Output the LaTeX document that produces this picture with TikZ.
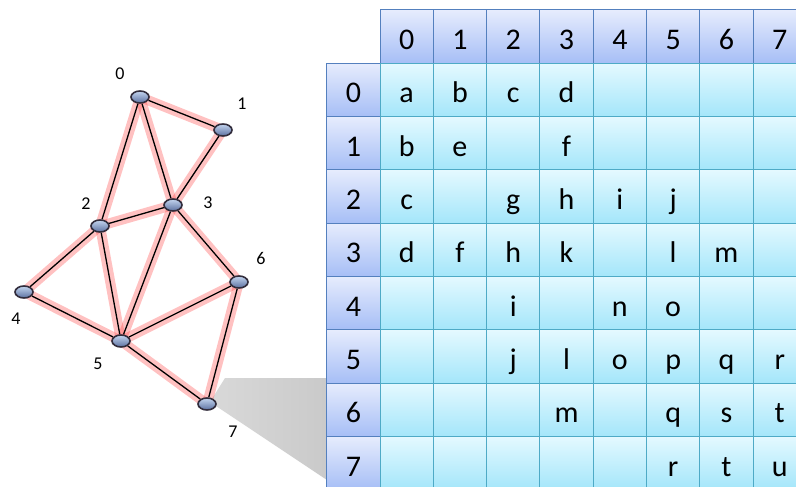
\documentclass[tikz,border=0pt]{standalone}
\usepackage{fontspec}
\setmainfont{Carlito}
\usetikzlibrary{shapes.geometric, positioning, backgrounds}
\definecolor{hdrtop}{RGB}{230,236,253}
\definecolor{hdrbot}{RGB}{166,190,246}
\definecolor{hdrline}{RGB}{84,128,190}
\definecolor{celltop}{RGB}{228,249,255}
\definecolor{cellbot}{RGB}{164,230,250}
\definecolor{cellline}{RGB}{78,170,198}
\definecolor{vtxtop}{RGB}{196,214,240}
\definecolor{vtxbot}{RGB}{92,112,160}
\definecolor{vtxline}{RGB}{50,45,60}
\tikzset{
  vertex/.style={
    ellipse,
    draw=vtxline,
    line width=1.6pt,
    top color=vtxtop,
    bottom color=vtxbot,
    minimum width=18pt,
    minimum height=12pt,
    inner sep=0pt
  },
  vlabel/.style={
    font=\fontsize{18}{21}\selectfont
  },
  glow/.style={
    line width=10pt,
    red!80,
    opacity=0.3
  },
  edge/.style={
    black,
    line width=1.3pt
  },
  hdr/.style={
    rectangle,
    draw=hdrline,
    line width=1pt,
    top color=hdrtop,
    bottom color=hdrbot,
    minimum width=53.3pt,
    minimum height=53.3pt,
    inner sep=0pt,
    text height=26pt,
    text depth=0pt,
    font=\fontsize{30}{33}\selectfont
  },
  cell/.style={
    hdr,
    draw=cellline,
    top color=celltop,
    bottom color=cellbot
  }
}

\begin{document}
\begin{tikzpicture}[x=1pt, y=-1pt]
  \clip (0,0) rectangle (796,487);

  % graph
  \node[vertex] (v0) at (140,97) {};
  \node[vertex] (v1) at (223,130) {};
  \node[vertex] (v2) at (100,226) {};
  \node[vertex] (v3) at (173,205) {};
  \node[vertex] (v4) at (24,292) {};
  \node[vertex] (v5) at (121,341) {};
  \node[vertex] (v6) at (239,282) {};
  \node[vertex] (v7) at (207,404) {};

  \node[vlabel] (l0) at (120,74) {0};
  \node[vlabel] (l1) at (242,104) {1};
  \node[vlabel] (l2) at (86,204) {2};
  \node[vlabel] (l3) at (208,203) {3};
  \node[vlabel] (l4) at (16,319) {4};
  \node[vlabel] (l5) at (98,364) {5};
  \node[vlabel] (l6) at (261,258) {6};
  \node[vlabel] (l7) at (233,432) {7};

  \begin{scope}[on background layer]
    % shadow under the table
    \shade[left color=gray!30, right color=gray!42]
      (210,402) -- (225,378) -- (330,378) -- (330,482) -- cycle;
    \foreach \a/\b in {0/1,0/2,0/3,1/3,2/3,2/4,2/5,3/5,3/6,4/5,5/6,5/7,6/7}
      \draw[glow] (v\a.center) -- (v\b.center);
    \foreach \a/\b in {0/1,0/2,0/3,1/3,2/3,2/4,2/5,3/5,3/6,4/5,5/6,5/7,6/7}
      \draw[edge] (v\a) -- (v\b);
  \end{scope}

  % table
  \foreach \j in {0,...,7}
    \node[hdr] (col\j) at ({406.65+53.3*\j},36.65) {\j};
  \foreach \i in {0,...,7}
    \node[hdr] (row\i) at (353.35,{89.95+53.3*\i}) {\i};

  \foreach \i/\r in {0/{a,b,c,d,{},{},{},{}},
                     1/{b,e,{},f,{},{},{},{}},
                     2/{c,{},g,h,i,j,{},{}},
                     3/{d,f,h,k,{},l,m,{}},
                     4/{{},{},i,{},n,o,{},{}},
                     5/{{},{},j,l,o,p,q,r},
                     6/{{},{},{},m,{},q,s,t},
                     7/{{},{},{},{},{},r,t,u}}
    \foreach \t [count=\j from 0] in \r
      \node[cell] (c\i\j) at ({406.65+53.3*\j},{89.95+53.3*\i}) {\t};
\end{tikzpicture}
\end{document}
